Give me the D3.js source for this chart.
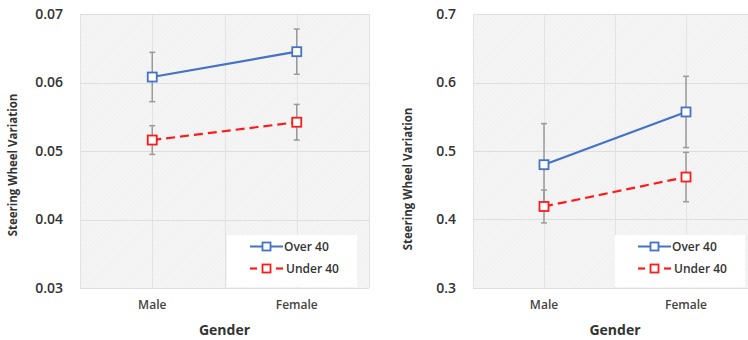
<!DOCTYPE html>
<html>
<head>
<meta charset="utf-8">
<script src="https://cdn.jsdelivr.net/npm/d3@7"></script>
<style>
  body { margin: 0; background: #fff; }
  svg { display: block; font-family: "Open Sans", sans-serif; }
</style>
</head>
<body>
<svg id="chart"></svg>
<script>
const WIDTH = 748;
const HEIGHT = 340;

// Plot area vertical extent (same for both panels).
const PLOT_TOP = 14;
const PLOT_BOTTOM = 288;

const categories = ['Male', 'Female'];
const seriesNames = ['Over 40', 'Under 40'];

// Left panel values and error bar half-widths.
const leftOver = [0.0608, 0.0645];
const leftOverErr = [0.0036, 0.0033];
const leftUnder = [0.0516, 0.0542];
const leftUnderErr = [0.0021, 0.0026];
const leftTicks = [0.03, 0.04, 0.05, 0.06, 0.07];

// Right panel values and error bar half-widths.
const rightOver = [0.480, 0.557];
const rightOverErr = [0.060, 0.052];
const rightUnder = [0.419, 0.462];
const rightUnderErr = [0.024, 0.036];
const rightTicks = [0.3, 0.4, 0.5, 0.6, 0.7];

const BLUE = '#4472c4';
const RED = '#ff1a1a';

const panels = [
  {
    x0: 80, x1: 369, titleX: 12, titleY: 165, fmt: '.2f',
    ticks: leftTicks,
    series: [
      {name: seriesNames[0], values: leftOver, errs: leftOverErr, color: BLUE, dash: null},
      {name: seriesNames[1], values: leftUnder, errs: leftUnderErr, color: RED, dash: '9,5'}
    ]
  },
  {
    x0: 473, x1: 757, titleX: 407, titleY: 179, fmt: '.1f',
    ticks: rightTicks,
    series: [
      {name: seriesNames[0], values: rightOver, errs: rightOverErr, color: BLUE, dash: null},
      {name: seriesNames[1], values: rightUnder, errs: rightUnderErr, color: RED, dash: '9,5'}
    ]
  }
];

const svg = d3.select('#chart').attr('width', WIDTH).attr('height', HEIGHT);

// Faint hatching used by the plot area background.
const pattern = svg.append('defs').append('pattern')
  .attr('id', 'hatch')
  .attr('width', 3).attr('height', 3)
  .attr('patternUnits', 'userSpaceOnUse')
  .attr('patternTransform', 'rotate(45)');
pattern.append('rect').attr('width', 3).attr('height', 3).attr('fill', '#f5f5f5');
pattern.append('line').attr('x1', 0).attr('y1', 0).attr('x2', 0).attr('y2', 3)
  .attr('stroke', '#ececec').attr('stroke-width', 1);

function drawPanel(p) {
  const g = svg.append('g');
  const ticks = p.ticks;

  const y = d3.scaleLinear()
    .domain([ticks[0], ticks[ticks.length - 1]])
    .range([PLOT_BOTTOM, PLOT_TOP]);
  const band = d3.scaleBand().domain(categories).range([p.x0, p.x1]).padding(0);
  const cx = d => band(d) + band.bandwidth() / 2;

  // Plot area
  g.append('rect')
    .attr('x', p.x0).attr('y', PLOT_TOP)
    .attr('width', p.x1 - p.x0).attr('height', PLOT_BOTTOM - PLOT_TOP)
    .attr('fill', 'url(#hatch)');

  // Horizontal gridlines
  g.selectAll('.hgrid').data(ticks).join('line')
    .attr('x1', p.x0).attr('x2', p.x1)
    .attr('y1', d => Math.round(y(d)) + 0.5).attr('y2', d => Math.round(y(d)) + 0.5)
    .attr('stroke', '#dedede').attr('stroke-width', 1);

  // Vertical gridlines at band edges and category centres
  const vx = [p.x0, p.x1].concat(categories.map(cx), categories.map(c => band(c)).slice(1));
  g.selectAll('.vgrid').data(vx).join('line')
    .attr('x1', d => Math.round(d) + 0.5).attr('x2', d => Math.round(d) + 0.5)
    .attr('y1', PLOT_TOP).attr('y2', PLOT_BOTTOM)
    .attr('stroke', '#e2e2e2').attr('stroke-width', 1);

  // Y tick labels
  const yAxis = d3.axisLeft(y).tickValues(ticks).tickSize(0).tickPadding(17)
    .tickFormat(d3.format(p.fmt));
  const ya = g.append('g').attr('transform', `translate(${p.x0},0)`).call(yAxis);
  ya.select('.domain').remove();
  ya.selectAll('text')
    .attr('font-family', '"Open Sans", sans-serif')
    .attr('font-size', 14).attr('font-weight', 600).attr('fill', '#333');

  // X tick labels
  const xAxis = d3.axisBottom(band).tickSize(0).tickPadding(12);
  const xa = g.append('g').attr('transform', `translate(0,${PLOT_BOTTOM})`).call(xAxis);
  xa.select('.domain').remove();
  xa.selectAll('text')
    .attr('font-family', '"Open Sans", sans-serif')
    .attr('font-size', 12).attr('font-weight', 600).attr('fill', '#444');

  // Axis titles
  g.append('text')
    .attr('x', (p.x0 + p.x1) / 2).attr('y', 335)
    .attr('text-anchor', 'middle')
    .attr('font-size', 14).attr('font-weight', 700).attr('fill', '#333')
    .text('Gender');
  g.append('text')
    .attr('transform', `translate(${p.titleX},${p.titleY}) rotate(-90)`)
    .attr('text-anchor', 'middle').attr('dominant-baseline', 'central')
    .attr('font-size', 11.5).attr('font-weight', 700).attr('fill', '#333')
    .text('Steering Wheel Variation');

  // Error bars
  p.series.forEach(s => {
    const eb = g.append('g').attr('stroke', '#9a9a9a').attr('stroke-width', 1.5);
    categories.forEach((c, i) => {
      const x = cx(c);
      const hi = y(s.values[i] + s.errs[i]);
      const lo = y(s.values[i] - s.errs[i]);
      eb.append('line').attr('x1', x).attr('x2', x).attr('y1', hi).attr('y2', lo);
      eb.append('line').attr('x1', x - 3).attr('x2', x + 3).attr('y1', hi).attr('y2', hi);
      eb.append('line').attr('x1', x - 3).attr('x2', x + 3).attr('y1', lo).attr('y2', lo);
    });
  });

  // Lines and markers
  const line = d3.line().x((d, i) => cx(categories[i])).y(d => y(d));
  p.series.forEach(s => {
    g.append('path')
      .attr('d', line(s.values))
      .attr('fill', 'none').attr('stroke', s.color).attr('stroke-width', 2.2)
      .attr('stroke-dasharray', s.dash);
    g.selectAll(null).data(s.values).join('rect')
      .attr('x', (d, i) => cx(categories[i]) - 4.5)
      .attr('y', d => y(d) - 4.5)
      .attr('width', 9).attr('height', 9)
      .attr('fill', '#fff').attr('stroke', s.color).attr('stroke-width', 1.8);
  });

  // Legend
  const lx = p.x1 - 142;
  g.append('rect')
    .attr('x', lx).attr('y', 235).attr('width', 130).attr('height', 52)
    .attr('fill', '#fff');
  p.series.forEach((s, i) => {
    const ly = 246.5 + i * 22;
    const row = g.append('g');
    if (s.dash) {
      row.append('line').attr('x1', lx + 23).attr('x2', lx + 30).attr('y1', ly).attr('y2', ly)
        .attr('stroke', s.color).attr('stroke-width', 2.2);
      row.append('line').attr('x1', lx + 49).attr('x2', lx + 56).attr('y1', ly).attr('y2', ly)
        .attr('stroke', s.color).attr('stroke-width', 2.2);
    } else {
      row.append('line').attr('x1', lx + 23).attr('x2', lx + 56).attr('y1', ly).attr('y2', ly)
        .attr('stroke', s.color).attr('stroke-width', 2.2);
    }
    row.append('rect')
      .attr('x', lx + 39.5 - 4).attr('y', ly - 4).attr('width', 8).attr('height', 8)
      .attr('fill', '#fff').attr('stroke', s.color).attr('stroke-width', 1.8);
    row.append('text')
      .attr('x', lx + (s.dash ? 59 : 57)).attr('y', ly)
      .attr('dominant-baseline', 'central')
      .attr('font-size', 12).attr('font-weight', 600).attr('fill', '#333')
      .text(s.name);
  });
}

panels.forEach(drawPanel);
</script>
</body>
</html>
